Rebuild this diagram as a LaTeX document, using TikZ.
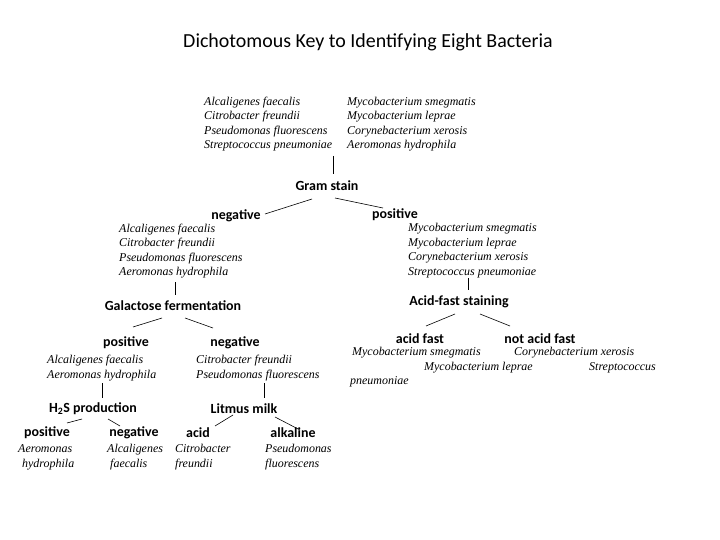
\documentclass[tikz,border=0pt]{standalone}
\usepackage{fontspec}
\setmainfont{Liberation Serif}
\newfontfamily\calibrifont{Carlito}
\usepackage{tikz}

\begin{document}
\begin{tikzpicture}[x=1bp, y=-1bp,
  ttl/.style={font=\calibrifont\fontsize{20}{24}\selectfont, inner sep=0pt},
  head/.style={font=\calibrifont\bfseries\fontsize{14}{16}\selectfont, inner sep=0pt},
  spec/.style={font=\itshape\fontsize{12}{14.5}\selectfont, align=left, anchor=west, inner sep=0pt,
    execute at begin node=\strut, execute at end node=\strut},
  leaf/.style={spec, font=\itshape\fontsize{12}{15}\selectfont},
  branch/.style={line width=0.6pt}]
\useasboundingbox (0,0) rectangle (720,540);
% title and the eight bacteria
\node[ttl] (title) at (368,42) {Dichotomous Key to Identifying Eight Bacteria};
\node[spec] (topL) at (204,125) {Alcaligenes faecalis\\Citrobacter freundii\\Pseudomonas fluorescens\\Streptococcus pneumoniae};
\node[spec] (topR) at (347,125) {Mycobacterium smegmatis\\Mycobacterium leprae\\Corynebacterium xerosis\\Aeromonas hydrophila};
\node[head] (gram) at (327,186) {Gram stain};
\draw[branch] ([shift={(129,31)}]topL.west) -- ([shift={(6,-12)}]gram.center);
% gram stain
\node[head] (neg) at (236,216) {negative};
\node[head] (pos) at (395,215) {positive};
\draw[branch] ([shift={(-15,13)}]gram.center) -- ([shift={(29,-2)}]neg.center);
\draw[branch] ([shift={(8,12)}]gram.center) -- ([shift={(-12,-7)}]pos.center);
\node[spec] (negList) at (119,252) {Alcaligenes faecalis\\Citrobacter freundii\\Pseudomonas fluorescens\\Aeromonas hydrophila};
\node[spec] (posList) at (408,251.5) {Mycobacterium smegmatis\\Mycobacterium leprae\\Corynebacterium xerosis\\Streptococcus pneumoniae};
% galactose branch
\node[head] (galac) at (173,306) {Galactose fermentation};
\draw[branch] ([shift={(56,30)}]negList.west) -- ([shift={(2,-11)}]galac.center);
\node[head] (gpos) at (126,343) {positive};
\node[head] (gneg) at (235,343) {negative};
\draw[branch] ([shift={(-11,12)}]galac.center) -- ([shift={(7,-16)}]gpos.center);
\draw[branch] ([shift={(12,12)}]galac.center) -- ([shift={(-22,-15)}]gneg.center);
\node[spec] (gposList) at (47,369) {Alcaligenes faecalis\\Aeromonas hydrophila};
\node[spec] (gnegList) at (196,369) {Citrobacter freundii\\Pseudomonas fluorescens};
\node[head] (h2s) at (93,409) {H\textsubscript{2}S production};
\node[head] (litmus) at (244,409) {Litmus milk};
\draw[branch] ([shift={(55,14)}]gposList.west) -- ([shift={(9,-11)}]h2s.center);
\draw[branch] ([shift={(68,14)}]gnegList.west) -- ([shift={(20,-11)}]litmus.center);
\node[head] (hpos) at (47,433) {positive};
\node[head] (hneg) at (134,433) {negative};
\node[head] (acid) at (198,433) {acid};
\node[head] (alk) at (293,433) {alkaline};
\draw[branch] ([shift={(-11,10)}]h2s.center) -- ([shift={(20,-10)}]hpos.center);
\draw[branch] ([shift={(15,10)}]h2s.center) -- ([shift={(-14,-7)}]hneg.center);
\draw[branch] ([shift={(-11,6)}]litmus.center) -- ([shift={(17,-7)}]acid.center);
\draw[branch] ([shift={(31,8)}]litmus.center) -- ([shift={(7,-3)}]alk.center);
\node[leaf] (aero) at (18,458.5) {Aeromonas\\\hspace{4bp}hydrophila};
\node[leaf] (alca) at (107,458.5) {Alcaligenes\\\hspace{3bp}faecalis};
\node[leaf] (citro) at (175,458.5) {Citrobacter\\freundii};
\node[leaf] (pseudo) at (265,458.5) {Pseudomonas\\fluorescens};
% acid-fast branch
\node[head] (acidfast) at (459,302) {Acid-fast staining};
\draw[branch] ([shift={(60,26.5)}]posList.west) -- ([shift={(9,-12)}]acidfast.center);
\node[head] (af) at (420,339) {acid fast};
\node[head] (naf) at (540,339) {not acid fast};
\draw[branch] ([shift={(-4,12)}]acidfast.center) -- ([shift={(6,-13)}]af.center);
\draw[branch] ([shift={(21,12)}]acidfast.center) -- ([shift={(-30,-13)}]naf.center);
\node[spec] (smeg) at (352,353) {Mycobacterium smegmatis};
\node[spec] (cory) at (514,353) {Corynebacterium xerosis};
\node[spec] (lep) at (424,368) {Mycobacterium leprae};
\node[spec] (strep) at (589,368) {Streptococcus};
\node[spec] (pneu) at (350,382) {pneumoniae};
\end{tikzpicture}
\end{document}
